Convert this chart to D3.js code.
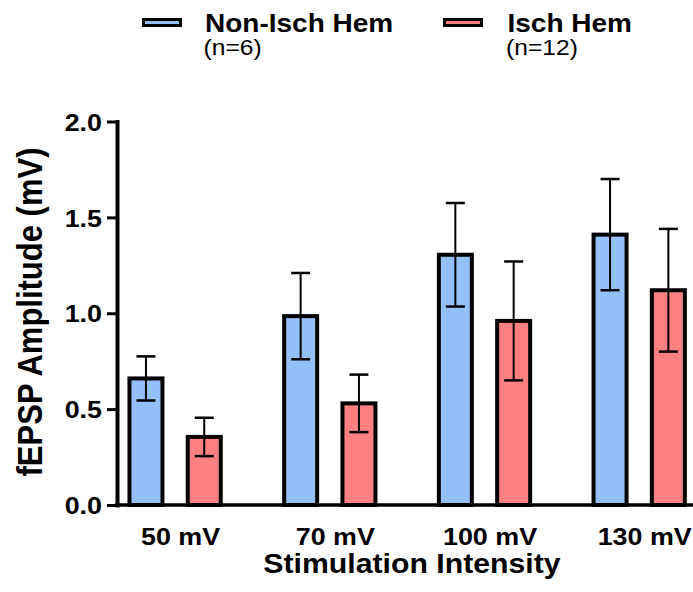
<!DOCTYPE html>
<html>
<head>
<meta charset="utf-8">
<script src="https://cdn.jsdelivr.net/npm/d3@7"></script>
<style>
  html, body { margin: 0; padding: 0; background: #ffffff; }
  svg { display: block; font-family: "Liberation Sans", Arial, Helvetica, sans-serif; }
</style>
</head>
<body>
<svg id="chart" width="693" height="592"></svg>
<script>
// Stimulation intensities (x categories)
const categories = ["50 mV", "70 mV", "100 mV", "130 mV"];
// Groups shown in the legend
const seriesNames = ["Non-Isch Hem", "Isch Hem"];
const seriesCounts = ["(n=6)", "(n=12)"];
// Mean fEPSP amplitude (mV) and SEM per group
const nonIschMean = [0.66, 0.985, 1.305, 1.41];
const nonIschSem  = [0.115, 0.225, 0.27, 0.29];
const ischMean    = [0.355, 0.53, 0.96, 1.12];
const ischSem     = [0.10, 0.15, 0.31, 0.32];
// Y axis ticks
const yTicks = [0.0, 0.5, 1.0, 1.5, 2.0];

const colors = { "Non-Isch Hem": "#93c0f9", "Isch Hem": "#ff8080" };
const STRETCH = 1.12;   // glyphs are drawn slightly wide

const svg = d3.select("#chart");

const axisX = 117, baseY = 505;
const y = d3.scaleLinear().domain([0, 2]).range([baseY, 121.5]);
const xGroup = d3.scalePoint().domain(categories).range([175.1, 639.2]);
const xSeries = d3.scalePoint().domain(seriesNames).range([-29.15, 29.15]);
const barW = 33;

const rows = [];
categories.forEach((c, i) => {
  rows.push({ cat: c, series: seriesNames[0], mean: nonIschMean[i], sem: nonIschSem[i] });
  rows.push({ cat: c, series: seriesNames[1], mean: ischMean[i], sem: ischSem[i] });
});

// Bars
svg.append("g").selectAll("rect").data(rows).join("rect")
  .attr("x", d => xGroup(d.cat) + xSeries(d.series) - barW / 2)
  .attr("y", d => y(d.mean))
  .attr("width", barW)
  .attr("height", d => y(0) - y(d.mean))
  .attr("fill", d => colors[d.series])
  .attr("stroke", "#000")
  .attr("stroke-width", 4);

// Error bars (mean ± SEM)
const eb = svg.append("g").attr("stroke", "#000").attr("fill", "none");
const capHalf = 9.5;
rows.forEach(d => {
  const cx = xGroup(d.cat) + xSeries(d.series);
  eb.append("line").attr("x1", cx).attr("x2", cx)
    .attr("y1", y(d.mean + d.sem)).attr("y2", y(d.mean - d.sem)).attr("stroke-width", 2);
  [d.mean + d.sem, d.mean - d.sem].forEach(v => {
    eb.append("line").attr("x1", cx - capHalf).attr("x2", cx + capHalf)
      .attr("y1", y(v)).attr("y2", y(v)).attr("stroke-width", 2.5);
  });
});

// Baseline (x axis line)
svg.append("line")
  .attr("x1", axisX - 2).attr("x2", 693)
  .attr("y1", baseY).attr("y2", baseY)
  .attr("stroke", "#000").attr("stroke-width", 3.5);

// Y axis
const yAxis = svg.append("g")
  .attr("transform", `translate(${axisX},0)`)
  .call(d3.axisLeft(y).tickValues(yTicks).tickFormat(d3.format(".1f")).tickSize(10).tickSizeOuter(0));
yAxis.select(".domain").attr("stroke-width", 4).attr("stroke-linecap", "square");
yAxis.selectAll(".tick line").attr("stroke-width", 3);
yAxis.selectAll(".tick text")
  .attr("x", null).attr("dy", "0.36em")
  .attr("transform", `translate(-15,0) scale(${STRETCH},1)`)
  .attr("fill", "#000")
  .style("font-size", "24px").style("font-weight", "bold")
  .style("font-family", "'Liberation Sans', Arial, sans-serif");

// X axis labels
const xAxis = svg.append("g")
  .attr("transform", `translate(0,${baseY})`)
  .call(d3.axisBottom(xGroup).tickSize(0));
xAxis.select(".domain").remove();
xAxis.selectAll(".tick text")
  .attr("y", null).attr("dy", null)
  .attr("transform", `translate(5,40) scale(${STRETCH},1)`)
  .attr("fill", "#000")
  .style("font-size", "24px").style("font-weight", "bold")
  .style("font-family", "'Liberation Sans', Arial, sans-serif");

// Axis titles
svg.append("text")
  .attr("transform", `translate(412,573) scale(${STRETCH},1)`)
  .attr("text-anchor", "middle")
  .style("font-size", "27px").style("font-weight", "bold")
  .text("Stimulation Intensity");

svg.append("text")
  .attr("transform", `translate(41.5,312) scale(${STRETCH},1) rotate(-90)`)
  .attr("text-anchor", "middle")
  .style("font-size", "31px").style("font-weight", "bold")
  .text("fEPSP Amplitude (mV)");

// Legend
const legendX = [143.5, 444.5];
const legendTextX = [205, 507.5];
const legend = svg.append("g").selectAll("g").data(seriesNames).join("g");
legend.append("rect")
  .attr("x", (d, i) => legendX[i]).attr("y", 19.5)
  .attr("width", 37).attr("height", 6)
  .attr("fill", d => colors[d]).attr("stroke", "#000").attr("stroke-width", 3);
legend.append("text")
  .attr("transform", (d, i) => `translate(${legendTextX[i]},32) scale(${STRETCH},1)`)
  .style("font-size", "25px").style("font-weight", "bold")
  .text(d => d);
legend.append("text")
  .attr("transform", (d, i) => `translate(${legendTextX[i] - 1.5},55) scale(${STRETCH},1)`)
  .style("font-size", "22px")
  .text((d, i) => seriesCounts[i]);
</script>
</body>
</html>
